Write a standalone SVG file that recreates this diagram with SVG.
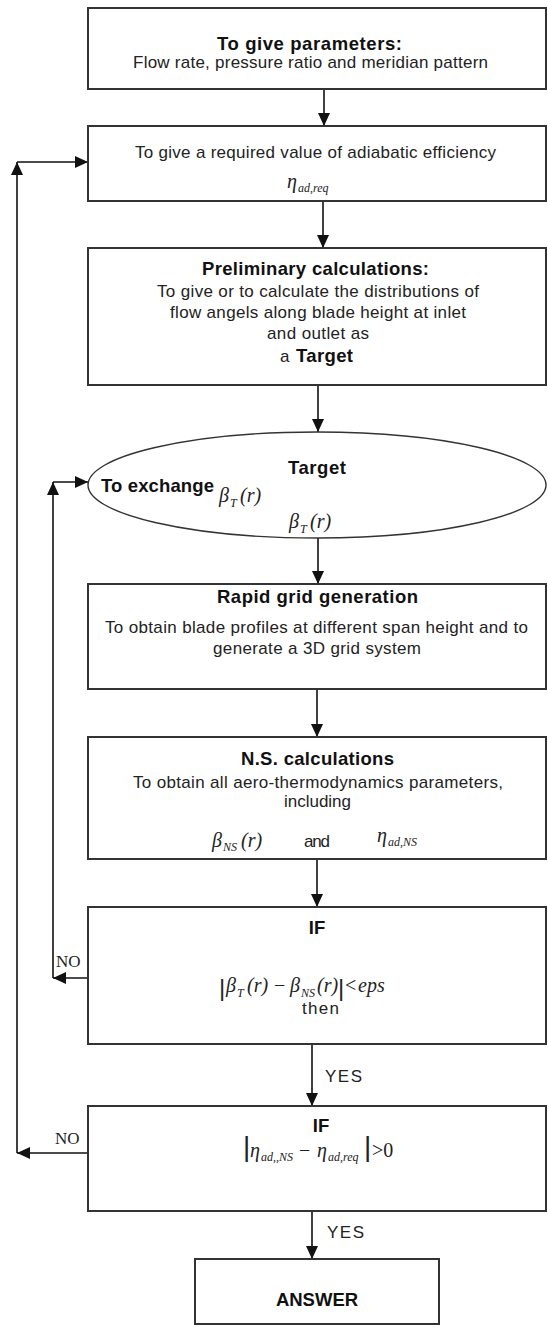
<svg xmlns="http://www.w3.org/2000/svg" width="548" height="1327" viewBox="0 0 548 1327">
<style>
.bx{fill:#fff;stroke:#333;stroke-width:2}
.el{fill:#fff;stroke:#333;stroke-width:1.4}
.cn{fill:none;stroke:#111;stroke-width:1.6}
.t{font-family:"Liberation Sans",Arial,sans-serif;font-size:17px;fill:#222}
.b{font-family:"Liberation Sans",Arial,sans-serif;font-size:18.5px;font-weight:bold;fill:#111}
.m{font-family:"Liberation Serif","Times New Roman",serif;font-style:italic;font-size:20px;fill:#222}
.ms{font-family:"Liberation Serif","Times New Roman",serif;font-style:italic;font-size:12px;fill:#222}
.u{font-family:"Liberation Serif","Times New Roman",serif;font-size:20px;fill:#222}
.bar{font-family:"Liberation Sans",Arial,sans-serif;fill:#222}
.no{font-family:"Liberation Serif","Times New Roman",serif;font-size:17px;fill:#222}
</style>
<defs>
<marker id="ah" markerWidth="13" markerHeight="12" refX="13" refY="6" orient="auto" markerUnits="userSpaceOnUse"><path d="M0,0 L13,6 L0,12 z" fill="#111"/></marker>
</defs>
<rect width="548" height="1327" fill="#fff"/>

<g id="connectors">
<path class="cn" d="M324,89 V126" marker-end="url(#ah)"/>
<path class="cn" d="M323,201 V248" marker-end="url(#ah)"/>
<path class="cn" d="M318,385 V432" marker-end="url(#ah)"/>
<path class="cn" d="M318,538 V584" marker-end="url(#ah)"/>
<path class="cn" d="M317,690 V737" marker-end="url(#ah)"/>
<path class="cn" d="M317,859 V907" marker-end="url(#ah)"/>
<path class="cn" d="M312,1044 V1106" marker-end="url(#ah)"/>
<path class="cn" d="M312,1211 V1259" marker-end="url(#ah)"/>
<path class="cn" d="M88,978 H53" marker-end="url(#ah)"/>
<path class="cn" d="M53,978 V482" marker-end="url(#ah)"/>
<path class="cn" d="M53,482 H88" marker-end="url(#ah)"/>
<path class="cn" d="M88,1153 H17" marker-end="url(#ah)"/>
<path class="cn" d="M17,1153 V162" marker-end="url(#ah)"/>
<path class="cn" d="M17,162 H88" marker-end="url(#ah)"/>
<text class="no" x="56" y="967">NO</text>
<text class="no" x="55" y="1144">NO</text>
<text class="t" x="325" y="1082" textLength="37">YES</text>
<text class="t" x="327" y="1238" textLength="37">YES</text>
</g>

<g id="n1">
<rect class="bx" x="88" y="8" width="458" height="81"/>
<text class="b" x="217" y="50" textLength="185">To give parameters:</text>
<text class="t" x="133" y="68" textLength="355">Flow rate, pressure ratio and meridian pattern</text>
</g>

<g id="n2">
<rect class="bx" x="88" y="126" width="458" height="75"/>
<text class="t" x="135" y="158" textLength="361">To give a required value of adiabatic efficiency</text>
<text class="m" x="287" y="188">η</text><text class="ms" x="298" y="192">ad,req</text>
</g>

<g id="n3">
<rect class="bx" x="88" y="248" width="458" height="137"/>
<text class="b" x="202" y="275" textLength="227">Preliminary calculations:</text>
<text class="t" x="157" y="297" textLength="322">To give or to calculate the distributions of</text>
<text class="t" x="170" y="318" textLength="296">flow angels along blade height at inlet</text>
<text class="t" x="267" y="339" textLength="102">and outlet as</text>
<text class="t" x="280" y="362">a</text><text class="b" x="296" y="362" textLength="57">Target</text>
</g>

<g id="n4">
<ellipse class="el" cx="317" cy="485" rx="229" ry="53"/>
<text class="b" x="288" y="474" textLength="58">Target</text>
<text class="b" x="101" y="492" textLength="113">To exchange</text>
<text class="m" x="219" y="502">β</text><text class="ms" x="230" y="507">T</text><text class="m" x="240" y="502">(r)</text>
<text class="m" x="289" y="528">β</text><text class="ms" x="300" y="533">T</text><text class="m" x="310" y="528">(r)</text>
</g>

<g id="n5">
<rect class="bx" x="88" y="584" width="458" height="105"/>
<text class="b" x="217" y="603" textLength="201">Rapid grid generation</text>
<text class="t" x="105" y="633" textLength="423">To obtain blade profiles at different span height and to</text>
<text class="t" x="213" y="654" textLength="208">generate a 3D grid system</text>
</g>

<g id="n6">
<rect class="bx" x="88" y="737" width="458" height="122"/>
<text class="b" x="241" y="765" textLength="153">N.S. calculations</text>
<text class="t" x="133" y="788" textLength="370">To obtain all aero-thermodynamics parameters,</text>
<text class="t" x="284" y="807" textLength="67">including</text>
<text class="m" x="212" y="847">β</text><text class="ms" x="223" y="851">NS</text><text class="m" x="241" y="847">(r)</text>
<text class="t" x="304" y="847" textLength="26">and</text>
<text class="m" x="377" y="842">η</text><text class="ms" x="388" y="846">ad,NS</text>
</g>

<g id="n7">
<rect class="bx" x="88" y="907" width="458" height="137"/>
<text class="b" x="317" y="934" text-anchor="middle">IF</text>
<text class="bar" x="219" y="996" font-size="24">|</text>
<text class="m" x="226" y="992">β</text><text class="ms" x="237" y="997">T</text><text class="m" x="247" y="992">(r)</text>
<text class="u" x="274" y="992">−</text>
<text class="m" x="290" y="992">β</text><text class="ms" x="301" y="997">NS</text><text class="m" x="317" y="992">(r)</text>
<text class="bar" x="338" y="996" font-size="24">|</text>
<text class="u" x="345" y="992">&lt;</text>
<text class="m" x="358" y="992" font-size="22">eps</text>
<text class="t" x="302" y="1014" textLength="37">then</text>
</g>

<g id="n8">
<rect class="bx" x="88" y="1106" width="458" height="105"/>
<text class="b" x="321" y="1132" text-anchor="middle">IF</text>
<text class="bar" x="243" y="1156" font-size="28">|</text>
<text class="m" x="250" y="1157">η</text><text class="ms" x="261" y="1161">ad,,NS</text>
<text class="u" x="299" y="1157">−</text>
<text class="m" x="317" y="1157">η</text><text class="ms" x="328" y="1161">ad,req</text>
<text class="bar" x="364" y="1156" font-size="28">|</text>
<text class="u" x="372" y="1157">&gt;0</text>
</g>

<g id="n9">
<rect class="bx" x="195" y="1259" width="244" height="65"/>
<text class="b" x="317" y="1306" font-size="23" text-anchor="middle">ANSWER</text>
</g>
</svg>
